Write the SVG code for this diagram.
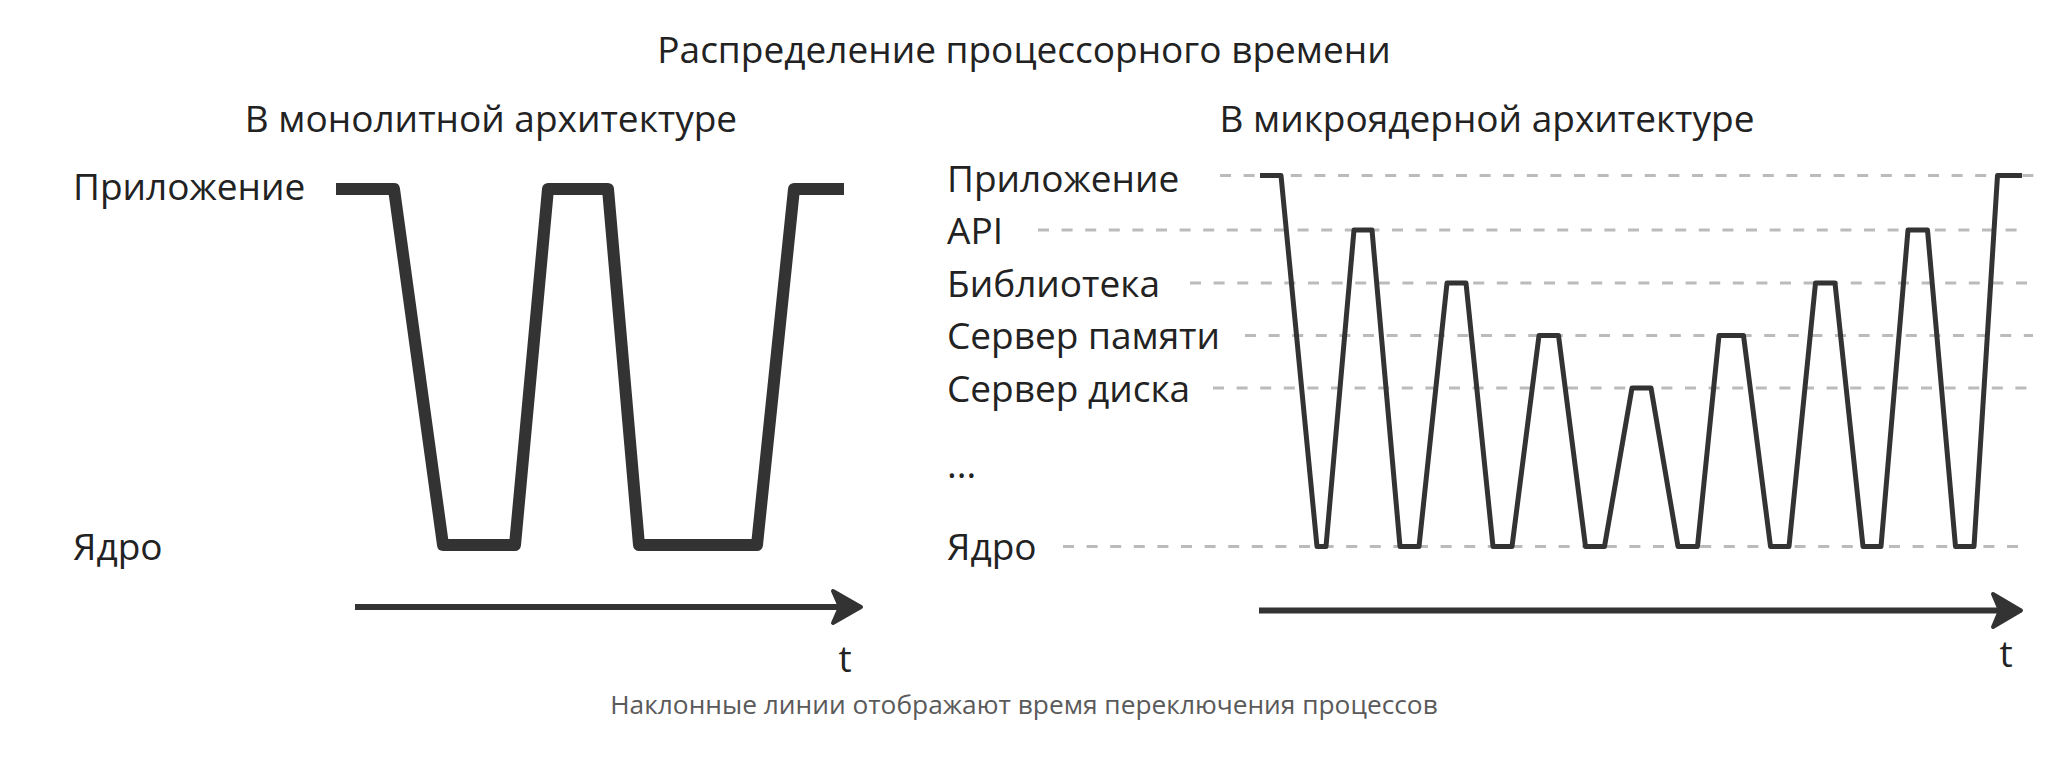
<svg xmlns="http://www.w3.org/2000/svg" width="2053" height="760" viewBox="0 0 2053 760">
<style>
  text { font-family: "Open Sans", "Noto Sans", "Liberation Sans", sans-serif; fill: #222; }
  .h { font-size: 37px; text-anchor: middle; }
  .lbl { font-size: 37px; }
  .note { font-size: 26.3px; fill: #5a5a5a; text-anchor: middle; }
  .dash { stroke: #bbb; stroke-width: 3; stroke-dasharray: 11 12.6; fill: none; }
  .sig { stroke: #333; fill: none; stroke-linejoin: round; stroke-linecap: butt; }
  .axis { stroke: #333; stroke-width: 6; fill: none; }
  .head { fill: #333; stroke: #333; stroke-width: 4; stroke-linejoin: round; }
</style>
<rect width="2053" height="760" fill="#fff"/>

<g id="title"><text class="h" x="1024" y="63">Распределение процессорного времени</text></g>

<g id="mono">
  <text class="h" x="491" y="132">В монолитной архитектуре</text>
  <text class="lbl" x="73" y="200">Приложение</text>
  <text class="lbl" x="73" y="560">Ядро</text>
  <text class="lbl" x="845" y="672" text-anchor="middle">t</text>
</g>

<g id="micro">
  <text class="h" x="1487" y="132">В микроядерной архитектуре</text>
  <text class="lbl" x="947" y="192">Приложение</text>
  <text class="lbl" x="947" y="244">API</text>
  <text class="lbl" x="947" y="297">Библиотека</text>
  <text class="lbl" x="947" y="349">Сервер памяти</text>
  <text class="lbl" x="947" y="402">Сервер диска</text>
  <text class="lbl" x="947" y="478">...</text>
  <text class="lbl" x="947" y="560">Ядро</text>
  <text class="lbl" x="2006" y="667" text-anchor="middle">t</text>
</g>

<g id="connectors">
  <line class="dash" x1="1220" y1="175.5" x2="2037" y2="175.5"/>
  <line class="dash" x1="1038" y1="230" x2="2021" y2="230"/>
  <line class="dash" x1="1190" y1="283" x2="2030" y2="283"/>
  <line class="dash" x1="1245" y1="335.5" x2="2033" y2="335.5"/>
  <line class="dash" x1="1213" y1="388" x2="2029" y2="388"/>
  <line class="dash" x1="1063" y1="546.5" x2="2021" y2="546.5"/>

  <polyline class="sig" stroke-width="12" points="336,189 394,189 443,545 515,545 548,189 608,189 639,545 757,545 794,189 844,189"/>

  <polyline class="sig" stroke-width="5" points="1260,175.5 1281,175.5 1317,546.5 1326,546.5 1354,230 1372,230 1400,546.5 1419,546.5 1447,283 1466,283 1493,546.5 1512,546.5 1539,335.5 1558.5,335.5 1585.5,546.5 1604.5,546.5 1632,388 1651,388 1678,546.5 1697.5,546.5 1719,335.5 1743.5,335.5 1770.5,546.5 1789,546.5 1815.5,283 1835,283 1863,546.5 1881,546.5 1908,230 1927.5,230 1955.5,546.5 1974,546.5 1997.5,175.5 2022,175.5"/>

  <line class="axis" x1="355" y1="607" x2="845" y2="607"/>
  <path class="head" d="M861,607 L833,591 L840,607 L833,623 Z"/>
  <line class="axis" x1="1259" y1="610.5" x2="2005" y2="610.5"/>
  <path class="head" d="M2021,610.5 L1993,594 L2000,610.5 L1993,627 Z"/>
</g>

<g id="footer"><text class="note" x="1024" y="714">Наклонные линии отображают время переключения процессов</text></g>
</svg>
